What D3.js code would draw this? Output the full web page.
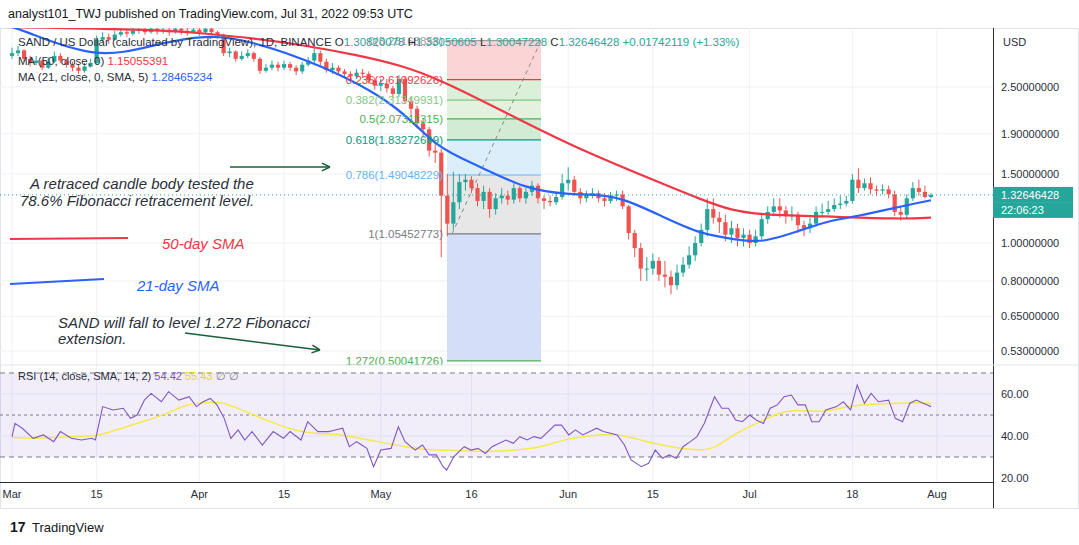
<!DOCTYPE html>
<html><head><meta charset="utf-8">
<script src="https://cdn.jsdelivr.net/npm/d3@7"></script>
<style>body{margin:0;background:#fff;font-family:"Liberation Sans",Arial,sans-serif}</style>
</head><body><svg id="c" width="1079" height="545"></svg>
<script>
// daily SAND/USD candles, Mar 1 - Jul 31 2022 (open = previous close)
var firstOpen = 3.0;
var marClose = [3.05,3.10,2.95,2.88,2.92,2.80,2.90,3.00,2.92,2.85,2.80,2.75,2.82,2.88,3.30,3.35,3.30,3.40,3.45,3.42,3.48,3.50,3.45,3.52,3.48,3.50,3.45,3.52,3.48,3.46,3.50];
var marHigh = [3.15,3.18,3.12,3.00,3.00,2.95,2.98,3.08,3.05,2.95,2.90,2.86,2.88,2.95,3.38,3.45,3.42,3.48,3.55,3.52,3.56,3.60,3.58,3.60,3.58,3.58,3.56,3.60,3.58,3.55,3.58];
var marLow = [2.95,3.00,2.90,2.82,2.84,2.76,2.78,2.88,2.88,2.80,2.74,2.70,2.72,2.80,2.85,3.25,3.22,3.28,3.36,3.35,3.38,3.42,3.40,3.42,3.40,3.42,3.38,3.42,3.40,3.38,3.42];
var aprClose = [3.45,3.52,3.45,3.40,3.05,3.08,2.95,3.00,3.05,2.95,2.75,2.80,2.85,2.80,2.86,2.80,2.74,2.85,2.92,3.05,2.90,2.76,2.80,2.74,2.70,2.66,2.72,2.70,2.60,2.52];
var aprHigh = [3.55,3.58,3.56,3.48,3.42,3.15,3.10,3.08,3.12,3.08,2.98,2.86,2.92,2.90,2.92,2.90,2.84,2.90,2.98,3.20,3.10,2.95,2.88,2.84,2.78,2.74,2.78,2.78,2.74,2.64];
var aprLow = [3.38,3.42,3.40,3.32,3.00,2.98,2.90,2.92,2.96,2.90,2.70,2.72,2.76,2.74,2.76,2.75,2.68,2.70,2.82,2.88,2.84,2.72,2.70,2.68,2.64,2.60,2.62,2.64,2.55,2.46];
var mayClose = [2.55,2.48,2.40,2.62,2.30,2.20,2.02,1.95,1.72,1.70,1.32,1.12,1.27,1.43,1.45,1.38,1.28,1.35,1.22,1.30,1.32,1.29,1.38,1.30,1.35,1.40,1.30,1.28,1.27,1.31,1.42];
var mayHigh = [2.62,2.62,2.52,2.68,2.66,2.36,2.24,2.08,1.98,1.80,1.74,1.50,1.52,1.50,1.50,1.48,1.42,1.40,1.38,1.34,1.38,1.36,1.42,1.40,1.38,1.44,1.42,1.32,1.32,1.34,1.50];
var mayLow = [2.44,2.42,2.34,2.36,2.26,2.12,1.96,1.86,1.66,1.60,0.92,1.04,1.08,1.22,1.36,1.34,1.24,1.22,1.16,1.18,1.26,1.25,1.26,1.27,1.26,1.32,1.26,1.22,1.24,1.25,1.29];
var junClose = [1.45,1.35,1.30,1.33,1.34,1.30,1.28,1.32,1.33,1.24,1.06,0.97,0.86,0.86,0.90,0.83,0.82,0.78,0.84,0.88,0.93,1.00,1.08,1.22,1.16,1.13,1.05,1.09,1.03,1.05];
var junHigh = [1.56,1.48,1.38,1.36,1.38,1.36,1.34,1.35,1.36,1.36,1.25,1.08,1.00,0.92,0.94,0.92,0.90,0.85,0.88,0.92,0.98,1.04,1.12,1.30,1.30,1.20,1.18,1.14,1.12,1.09];
var junLow = [1.36,1.32,1.26,1.27,1.30,1.27,1.24,1.26,1.28,1.22,1.02,0.92,0.80,0.80,0.83,0.80,0.77,0.74,0.76,0.82,0.86,0.90,0.98,1.04,1.12,1.06,1.01,1.00,0.98,0.98];
var julClose = [1.00,1.04,1.15,1.20,1.24,1.21,1.17,1.18,1.11,1.09,1.12,1.20,1.20,1.22,1.25,1.26,1.28,1.45,1.38,1.42,1.37,1.36,1.37,1.33,1.20,1.18,1.30,1.38,1.35,1.31,1.326];
var julHigh = [1.08,1.08,1.18,1.24,1.30,1.30,1.24,1.24,1.20,1.14,1.16,1.24,1.26,1.28,1.30,1.32,1.32,1.50,1.55,1.46,1.47,1.40,1.41,1.40,1.36,1.24,1.33,1.43,1.45,1.40,1.34];
var julLow = [0.97,0.98,1.02,1.12,1.18,1.16,1.12,1.14,1.06,1.04,1.06,1.10,1.16,1.18,1.20,1.22,1.24,1.26,1.34,1.36,1.33,1.32,1.33,1.30,1.17,1.14,1.15,1.28,1.32,1.30,1.30];

// moving averages sampled at [day, price]
var ma50 = [[-2,3.56],[25,3.50],[32,3.42],[40,3.33],[48,3.20],[57,3.02],[64,2.85],[71,2.61],[84,2.06],[94,1.73],[106,1.45],[114,1.29],[119,1.21],[124,1.18],[134,1.17],[147,1.15],[152,1.16]];
var ma21 = [[-2,3.62],[1,3.54],[14,2.92],[24,3.22],[32,3.40],[39,3.30],[51,2.86],[64,2.25],[70,1.75],[77,1.58],[85,1.37],[92,1.33],[97,1.33],[101,1.30],[107,1.18],[114,1.05],[120,1.02],[124,1.00],[130,1.07],[135,1.14],[140,1.17],[146,1.23],[152,1.285]];

// RSI(14) and its SMA, sampled at [day, value]
var rsi = [[0,39.7],[0.5,46],[1.7,43.7],[3.5,38.9],[5.2,40.5],[6.9,37.3],[8,42.1],[9.8,38.9],[11.5,38.1],[13.2,38.9],[13.8,38.1],[15,54],[16.7,52.4],[18.4,53.2],[19.6,48.4],[20.7,50],[21.9,57.1],[23,60.3],[24.7,56.3],[25.9,61.1],[27.6,57.1],[29.3,58.7],[30.5,54],[31.6,56.3],[32.8,57.9],[33.9,54.8],[35.1,48.4],[36.2,38.9],[37.4,42.9],[38.5,38.1],[39.7,42.1],[41.4,35.7],[43.2,42.1],[44.9,38.9],[46,42.1],[47.8,38.1],[48.9,46.8],[50.6,42.1],[52.4,42.1],[53.5,42.9],[54.7,43.7],[55.8,34.9],[57,37.3],[58.7,34.1],[59.8,25.4],[61,33.3],[62.7,34.1],[63.9,44.4],[65,37.3],[66.7,33.3],[67.9,35.7],[69,31],[70.2,31],[71.3,25.4],[71.9,23.8],[73.1,30.2],[74.8,34.9],[75.9,33.3],[77.1,34.1],[78.3,31.7],[79.4,34.9],[81.7,38.1],[82.9,36.5],[84,39.7],[85.2,38.1],[86.3,39.7],[87.5,38.9],[89.8,45.2],[90.9,45.2],[92.1,40.5],[93.2,42.9],[94.4,40.5],[96.7,43.7],[97.8,42.1],[99,41.3],[100.1,40.5],[101.3,35.7],[102.4,28.6],[104.1,25.4],[105.3,27],[106.4,33.3],[107.6,29.4],[108.7,31],[109.9,29.4],[111,34.9],[112.2,37.3],[113.3,39.7],[114.5,46],[116.2,58.7],[117.4,53.2],[118.5,53.2],[119.7,47.6],[120.8,46.8],[122,50],[123.1,47.6],[124.3,46],[125.4,53.2],[126.6,54.8],[127.7,58.7],[128.9,59.5],[130,54.8],[131.2,54.8],[132.3,46.8],[133.5,46.8],[134.6,52.4],[136.4,54],[137.5,56.3],[138.7,52.4],[139.8,64.3],[141,55.6],[142.1,60.3],[143.3,56.3],[145,57.1],[146.1,48.4],[147.3,46.8],[148.5,55.6],[149.6,57.1],[150.7,55.6],[151.4,54.8],[151.9,54],[152,54.42]];
var rsiMa = [[0,39.4],[3.5,38.6],[10.4,40],[13.8,39.4],[19.6,45.2],[25.3,50],[28.8,55.2],[31.1,55.6],[34.5,56.8],[38,52.4],[42.6,46.8],[47.2,42.1],[50.6,41],[54.1,41],[57.5,38.9],[62.1,36.5],[67.9,33.3],[72.5,33.3],[77.1,32.5],[81.7,32.8],[86.3,34.1],[88.6,35.7],[92.1,38.9],[96.7,40.5],[100.1,41.3],[104.7,37.3],[109.3,34.6],[113.9,33],[116.2,34],[119.7,41.3],[123.1,46],[126.6,50.8],[128.9,52.4],[132.3,51.8],[134.6,51.6],[138,54],[141.5,55.1],[146.1,55.6],[150.7,56],[152,55.43]];

var priceTicks = [2.5, 1.9, 1.5, 1.0, 0.8, 0.65, 0.53];
var rsiTicks = [60, 40, 20];
var dateTicks = [["Mar",0],["15",14],["Apr",31],["15",45],["May",61],["16",76],["Jun",92],["15",106],["Jul",122],["18",139],["Aug",153]];

var fibLevels = [[0,3.28168858],[0.236,2.61092626],[0.382,2.31349931],[0.5,2.07311315],[0.618,1.83272699],[0.786,1.49048229],[1,1.05452773],[1.272,0.50041726]];
var fibLine = ["#9e9e9e","#f23645","#81c784","#4caf50","#089981","#64b5f6","#787b86","#4caf50"];
var fibFill = ["#fbd5d6","#dcefd9","#e3f2df","#d2ebd4","#dbeef9","#e7e7e7","#d4def9"];

var candles = [];
var allC = [].concat(marClose,aprClose,mayClose,junClose,julClose);
var allH = [].concat(marHigh,aprHigh,mayHigh,junHigh,julHigh);
var allL = [].concat(marLow,aprLow,mayLow,junLow,julLow);
allC.forEach(function(c,i){
  candles.push({d:i,o:i?allC[i-1]:firstOpen,c:c,h:allH[i],l:allL[i]});
});

var svg = d3.select("#c");
var W = 993, paneTop = 28, mainB = 365, rsiB = 482;
var x = d3.scaleLinear().domain([0,153]).range([12,937]);
var y = d3.scaleLog().domain([0.53,2.5]).range([351,87]);
var yr = d3.scaleLinear().domain([20,60]).range([478,394]);

// frames and grid
svg.append("rect").attr("x",0.5).attr("y",paneTop+0.5).attr("width",1078).attr("height",480).attr("fill","none").attr("stroke","#e0e3eb");
svg.append("clipPath").attr("id","cm").append("rect").attr("x",0).attr("y",paneTop).attr("width",W).attr("height",mainB-paneTop);
svg.append("clipPath").attr("id","cr").append("rect").attr("x",0).attr("y",mainB).attr("width",W).attr("height",rsiB-mainB);
var g = svg.append("g").attr("clip-path","url(#cm)");
var gr = svg.append("g").attr("clip-path","url(#cr)");
dateTicks.forEach(function(t){
  [g,gr].forEach(function(k){k.append("line").attr("x1",x(t[1])).attr("x2",x(t[1])).attr("y1",paneTop).attr("y2",rsiB).attr("stroke","#eef1f6");});
});
priceTicks.forEach(function(p){g.append("line").attr("x1",0).attr("x2",W).attr("y1",y(p)).attr("y2",y(p)).attr("stroke","#eef1f6");});

// fib tool
var fx0 = 447, fx1 = 541;
for (var i=0;i<fibFill.length;i++){
  var a=y(fibLevels[i][1]), b=y(fibLevels[i+1][1]);
  g.append("rect").attr("x",fx0).attr("y",a).attr("width",fx1-fx0).attr("height",b-a).attr("fill",fibFill[i]);
}
fibLevels.forEach(function(f,i){
  g.append("line").attr("x1",fx0).attr("x2",fx1).attr("y1",y(f[1])).attr("y2",y(f[1])).attr("stroke",fibLine[i]).attr("stroke-width",1.2);
});
g.append("line").attr("x1",452).attr("y1",y(1.05452773)).attr("x2",fx1).attr("y2",y(3.28168858)).attr("stroke","#888").attr("stroke-dasharray","4,4");

// candles
var bw = 4.2;
var cg = g.selectAll("g.k").data(candles).enter().append("g");
cg.append("line").attr("x1",function(d){return x(d.d);}).attr("x2",function(d){return x(d.d);})
  .attr("y1",function(d){return y(d.h);}).attr("y2",function(d){return y(d.l);})
  .attr("stroke",function(d){return d.c>=d.o?"#26a69a":"#ef5350";});
cg.append("rect").attr("x",function(d){return x(d.d)-bw/2;}).attr("width",bw)
  .attr("y",function(d){return y(Math.max(d.o,d.c));})
  .attr("height",function(d){return Math.max(1,Math.abs(y(d.o)-y(d.c)));})
  .attr("fill",function(d){return d.c>=d.o?"#26a69a":"#ef5350";});

// MAs
var ln = d3.line().x(function(d){return x(d[0]);}).y(function(d){return y(d[1]);}).curve(d3.curveBasis);
g.append("path").attr("d",ln(ma50)).attr("fill","none").attr("stroke","#f23645").attr("stroke-width",2.2);
g.append("path").attr("d",ln(ma21)).attr("fill","none").attr("stroke","#2962ff").attr("stroke-width",2.2);

// fib labels on top
fibLevels.forEach(function(f,i){
  g.append("text").attr("x",fx0-4).attr("y",y(f[1])+4).attr("text-anchor","end").attr("font-size",11.5)
   .attr("fill",fibLine[i]).text(f[0]+"("+f[1].toFixed(8)+")");
});

// last price line
var last = allC[allC.length-1];
svg.append("line").attr("x1",0).attr("x2",W).attr("y1",y(last)).attr("y2",y(last)).attr("stroke","#26a69a").attr("stroke-dasharray","1,3");

// annotations
function arrow(x1,y1,x2,y2){
  g.append("line").attr("x1",x1).attr("y1",y1).attr("x2",x2).attr("y2",y2).attr("stroke","#1b5e3a").attr("stroke-width",1.5);
  var ang=Math.atan2(y2-y1,x2-x1), s=9;
  g.append("path").attr("d","M"+x2+","+y2+"L"+(x2-s*Math.cos(ang-0.45))+","+(y2-s*Math.sin(ang-0.45))+"M"+x2+","+y2+"L"+(x2-s*Math.cos(ang+0.45))+","+(y2-s*Math.sin(ang+0.45)))
   .attr("stroke","#1b5e3a").attr("stroke-width",1.5).attr("fill","none");
}
arrow(230,167,330,167);
arrow(185,333,320,350);
function note(tx,xx,yy,col,ital){g.append("text").attr("x",xx).attr("y",yy).attr("font-size",15).attr("fill",col).attr("font-style",ital?"italic":null).text(tx);}
note("A retraced candle body tested the",30,189,"#2a2e39",true);
note("78.6% Fibonacci retracement level.",20,206,"#2a2e39",true);
g.append("line").attr("x1",10).attr("y1",239).attr("x2",128).attr("y2",238).attr("stroke","#f23645").attr("stroke-width",2);
note("50-day SMA",162,249,"#f23645",true);
g.append("line").attr("x1",10).attr("y1",284).attr("x2",104).attr("y2",279).attr("stroke","#2962ff").attr("stroke-width",2);
note("21-day SMA",137,291,"#2962ff",true);
note("SAND will fall to level 1.272 Fibonacci",58,328,"#2a2e39",true);
note("extension.",58,344,"#2a2e39",true);

// legend
var lg = svg.append("g").attr("font-size",11.5);
var t1 = lg.append("text").attr("x",18).attr("y",46).attr("fill","#2a2e39");
t1.append("tspan").text("SAND / US Dollar (calculated by TradingView), 1D, BINANCE  O");
[["1.30820078","  H"],["1.33050605","  L"],["1.30047228","  C"],["1.32646428","  "],["+0.01742119 (+1.33%)",""]].forEach(function(p){
  t1.append("tspan").attr("fill","#26a69a").text(p[0]);
  if(p[1]) t1.append("tspan").attr("fill","#2a2e39").text(p[1]);
});
var t2 = lg.append("text").attr("x",18).attr("y",65).attr("fill","#2a2e39");
t2.append("tspan").text("MA (50, close, 0)  ");t2.append("tspan").attr("fill","#f23645").text("1.15055391");
var t3 = lg.append("text").attr("x",18).attr("y",81).attr("fill","#2a2e39");
t3.append("tspan").text("MA (21, close, 0, SMA, 5)  ");t3.append("tspan").attr("fill","#2962ff").text("1.28465234");

// price axis
svg.append("line").attr("x1",W+0.5).attr("x2",W+0.5).attr("y1",paneTop).attr("y2",508).attr("stroke","#2a2e39");
svg.append("text").attr("x",1003).attr("y",46).attr("font-size",11).attr("fill","#2a2e39").text("USD");
priceTicks.forEach(function(p){
  svg.append("text").attr("x",1001).attr("y",y(p)+4).attr("font-size",11).attr("fill","#2a2e39").text(p.toFixed(8));
});
svg.append("rect").attr("x",W).attr("y",y(last)-8).attr("width",80).attr("height",16).attr("fill","#26a69a");
svg.append("rect").attr("x",W).attr("y",y(last)+8).attr("width",80).attr("height",15).attr("fill","#26a69a");
svg.append("text").attr("x",1001).attr("y",y(last)+4).attr("font-size",11).attr("fill","#fff").text("1.32646428");
svg.append("text").attr("x",1001).attr("y",y(last)+19).attr("font-size",11).attr("fill","#fff").text("22:06:23");

// RSI pane
svg.append("line").attr("x1",0).attr("x2",1079).attr("y1",mainB).attr("y2",mainB).attr("stroke","#e0e3eb");
gr.append("rect").attr("x",0).attr("y",yr(70)).attr("width",W).attr("height",yr(30)-yr(70)).attr("fill","#7e57c2").attr("opacity",0.1);
[60,40].forEach(function(v){gr.append("line").attr("x1",0).attr("x2",W).attr("y1",yr(v)).attr("y2",yr(v)).attr("stroke","#dde2ef");});
[70,50,30].forEach(function(v){gr.append("line").attr("x1",0).attr("x2",W).attr("y1",yr(v)).attr("y2",yr(v)).attr("stroke","#787b86").attr("stroke-dasharray",v==50?"3,3":"5,4");});
var lr = d3.line().x(function(d){return x(d[0]);}).y(function(d){return yr(d[1]);});
gr.append("path").attr("d",lr.curve(d3.curveBasis)(rsiMa)).attr("fill","none").attr("stroke","#f5e94a").attr("stroke-width",1.5);
gr.append("path").attr("d",lr.curve(d3.curveLinear)(rsi)).attr("fill","none").attr("stroke","#7e57c2").attr("stroke-width",1.1);
rsiTicks.forEach(function(v){svg.append("text").attr("x",1001).attr("y",yr(v)+4).attr("font-size",11).attr("fill","#2a2e39").text(v.toFixed(2));});
var rl = svg.append("text").attr("x",18).attr("y",380).attr("font-size",11).attr("fill","#2a2e39");
rl.append("tspan").text("RSI (14, close, SMA, 14, 2)  ");
rl.append("tspan").attr("fill","#7e57c2").text("54.42  ");
rl.append("tspan").attr("fill","#e6d43a").text("55.43  ");
rl.append("tspan").attr("fill","#787b86").text("∅  ∅");

// time axis
svg.append("line").attr("x1",0).attr("x2",W).attr("y1",rsiB+0.5).attr("y2",rsiB+0.5).attr("stroke","#2a2e39");
dateTicks.forEach(function(t){
  svg.append("text").attr("x",x(t[1])).attr("y",498).attr("text-anchor","middle").attr("font-size",11).attr("fill","#2a2e39").text(t[0]);
});

// header / footer
svg.append("text").attr("x",8).attr("y",18).attr("font-size",12.5).attr("fill","#131722").text("analyst101_TWJ published on TradingView.com, Jul 31, 2022 09:53 UTC");
svg.append("text").attr("x",10).attr("y",532).attr("font-size",14).attr("font-weight","bold").attr("fill","#131722").text("17");
svg.append("text").attr("x",32).attr("y",532).attr("font-size",13).attr("fill","#131722").text("TradingView");
</script></body></html>
